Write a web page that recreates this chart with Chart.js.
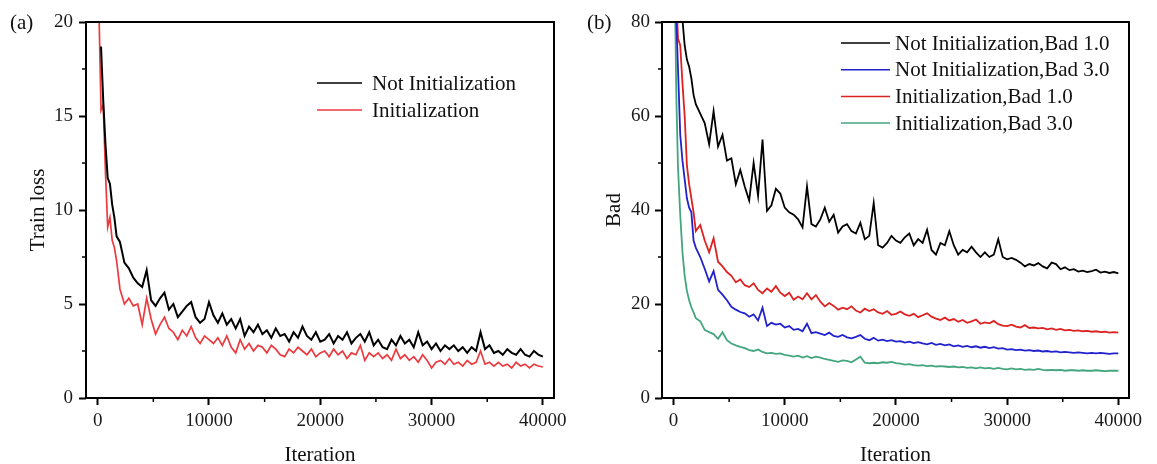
<!DOCTYPE html>
<html>
<head>
<meta charset="utf-8">
<script src="https://cdn.jsdelivr.net/npm/chart.js@4.4.1/dist/chart.umd.min.js"></script>
<style>
  html, body { margin: 0; padding: 0; background: #fff; }
  #wrap { position: relative; width: 1157px; height: 464px; }
  canvas { position: absolute; top: 0; }
  #lossChart { left: 0; }
  #badChart { left: 578px; }
</style>
</head>
<body>
<div id="wrap">
  <canvas id="lossChart" width="578" height="464"></canvas>
  <canvas id="badChart" width="579" height="464"></canvas>
</div>
<script>
// iterations: a few dense points at the start, then every 400
const lossEarlyIter = [100, 300, 500, 700, 900, 1100, 1300, 1500, 1700, 2000]
const badEarlyIter = [100, 250, 400, 600, 800, 1000, 1200, 1400, 1600, 1800, 2000]
const stepIter = [
  2400, 2800, 3200, 3600, 4000, 4400, 4800, 5200, 5600,
  6000, 6400, 6800, 7200, 7600, 8000, 8400, 8800, 9200, 9600,
  10000, 10400, 10800, 11200, 11600, 12000, 12400, 12800, 13200, 13600,
  14000, 14400, 14800, 15200, 15600, 16000, 16400, 16800, 17200, 17600,
  18000, 18400, 18800, 19200, 19600, 20000, 20400, 20800, 21200, 21600,
  22000, 22400, 22800, 23200, 23600, 24000, 24400, 24800, 25200, 25600,
  26000, 26400, 26800, 27200, 27600, 28000, 28400, 28800, 29200, 29600,
  30000, 30400, 30800, 31200, 31600, 32000, 32400, 32800, 33200, 33600,
  34000, 34400, 34800, 35200, 35600, 36000, 36400, 36800, 37200, 37600,
  38000, 38400, 38800, 39200, 39600, 40000
]

// (a) train loss
const lossNotInit = [
  null, 18.7, 15.8, 13.5, 11.7, 11.4, 10.3, 9.6, 8.6, 8.3,
  7.2, 6.9, 6.4, 6.1, 5.9, 6.8, 5.2, 4.9, 5.3,
  5.6, 4.7, 5.0, 4.3, 4.6, 4.9, 5.1, 4.3, 4.0, 4.2,
  5.1, 4.4, 4.0, 4.5, 3.9, 4.2, 3.7, 4.2, 3.3, 3.8,
  3.5, 3.9, 3.4, 3.6, 3.2, 3.7, 3.3, 3.4, 3.0, 3.5,
  3.2, 3.8, 3.3, 3.1, 3.5, 3.0, 3.1, 3.4, 2.9, 3.3,
  3.1, 3.5, 2.9, 3.2, 3.4, 3.0, 3.5, 2.8, 3.1, 2.7,
  2.6, 3.1, 2.8, 3.3, 2.9, 3.1, 2.7, 3.5, 2.8, 3.0,
  2.6, 2.9, 2.5, 2.8, 2.6, 2.8, 2.5, 2.7, 2.4, 2.7,
  2.5, 3.5, 2.6, 2.8, 2.4, 2.5, 2.3, 2.6, 2.4, 2.3,
  2.6, 2.3, 2.2, 2.5, 2.3, 2.2
]
const lossInit = [
  21, 15.3, 15.6, 12.0, 9.1, 9.6, 8.4, 8.0, 7.3, 5.8,
  5.0, 5.3, 4.9, 5.0, 3.9, 5.3, 4.2, 3.4, 3.9,
  4.3, 3.7, 3.5, 3.1, 3.6, 3.3, 3.8, 3.2, 2.9, 3.3,
  3.1, 2.9, 3.2, 2.8, 3.3, 2.7, 2.4, 3.1, 2.6, 2.9,
  2.5, 2.8, 2.7, 2.4, 2.8, 2.6, 2.3, 2.2, 2.6, 2.4,
  2.7, 2.5, 2.3, 2.6, 2.2, 2.4, 2.5, 2.2, 2.6, 2.3,
  2.5, 2.1, 2.4, 2.3, 2.8, 2.0, 2.4, 2.2, 2.4, 2.1,
  2.3, 2.0, 2.6, 2.1, 2.3, 2.0, 2.2, 1.9, 2.3, 2.0,
  1.6, 1.9, 2.0, 1.8, 2.1, 1.8, 1.9, 1.7, 2.0, 1.8,
  1.9, 2.5, 1.8, 1.9, 1.7, 1.9, 1.7, 1.8, 1.6, 1.9,
  1.7, 1.8, 1.6, 1.8, 1.7, 1.65
]

// (b) bad pixel rate
const badNotInit1 = [
  120, 105, 95, 86, 80.5, 75, 72, 70.5, 68, 64.5, 62.5,
  60.5, 58.5, 54.0, 61.0, 53.5, 56.0, 50.5, 51.0, 45.5,
  48.5, 45.0, 42.0, 50.0, 43.0, 55.0, 39.8, 41.0, 44.5, 43.5,
  40.5, 39.5, 39.0, 38.0, 36.3, 45.0, 37.0, 36.5, 38.0, 40.5,
  37.5, 39.0, 35.2, 36.5, 37.0, 35.5, 35.0, 37.3, 33.8, 34.5,
  41.5, 32.5, 32.0, 33.0, 34.5, 33.5, 33.0, 34.2, 35.0, 32.5,
  33.8, 33.0, 35.8, 31.5, 30.5, 33.0, 32.5, 35.5, 32.5, 30.5,
  31.5, 31.0, 32.2, 31.0, 30.0, 31.0, 30.0, 30.5, 33.8, 30.0,
  29.5, 29.8, 29.4, 28.8, 28.0, 28.5, 28.2, 28.7, 28.0, 27.6,
  28.8, 28.5, 27.4, 27.8, 27.2, 27.4, 26.9, 27.1, 26.8, 27.0,
  27.3, 26.7, 26.9, 26.6, 26.8, 26.5
]
const badNotInit3 = [
  100, 80, 70, 56, 50.5, 46.5, 42.5, 40.5, 39.5, 33.5, 32,
  30.0, 27.5, 24.8, 27.0, 23.0, 22.0, 20.8, 19.4, 18.8,
  18.3, 18.0, 17.3, 17.8, 16.5, 19.2, 15.3, 16.0, 15.6, 15.8,
  15.0, 15.3, 14.5, 14.7, 14.2, 15.8, 13.8, 14.0, 13.7, 13.4,
  13.9, 13.2, 13.0, 13.4, 12.9, 12.7, 13.0, 13.4, 12.6, 12.3,
  12.8, 12.2, 12.4, 12.1, 12.3, 12.0, 12.1, 11.8, 12.0, 11.7,
  11.9, 11.6, 11.4, 11.7, 11.3, 11.5, 11.2, 11.4, 11.0, 11.2,
  10.9, 11.1, 10.8, 11.0, 10.7, 10.9, 10.6, 10.8, 10.5, 10.6,
  10.3, 10.4, 10.2, 10.3, 10.1, 10.2, 10.0, 10.1, 9.9, 10.0,
  9.8, 9.9, 9.7, 9.8, 9.7, 9.6, 9.7, 9.6, 9.5, 9.6,
  9.5, 9.6, 9.5, 9.4, 9.5, 9.5
]
const badInit1 = [
  110, 85, 76.5, 75, 67, 60, 49.5, 45.5, 42.5, 39.5, 35.5,
  36.8, 33.5, 31.0, 34.0, 29.0, 28.0, 26.8, 26.0, 24.6,
  25.2, 24.0, 23.6, 24.4, 23.0, 22.3, 23.3, 22.6, 23.8, 22.4,
  21.7, 22.4, 20.9, 21.6, 21.0, 22.3, 21.0, 21.9, 20.5, 19.5,
  20.2, 19.6, 18.8, 19.2, 18.9, 19.5, 18.6, 18.2, 19.0, 18.5,
  18.9, 18.2, 17.9, 18.5, 17.7, 17.9, 18.4, 17.8, 17.5, 17.9,
  17.2, 17.6, 18.0, 17.3, 16.9, 16.6, 17.1, 16.5, 16.8, 16.2,
  16.6, 16.0, 16.3, 16.7, 15.8, 16.1, 15.9, 16.4, 15.7, 15.4,
  15.3, 15.6, 15.2, 15.0, 15.5, 14.9, 15.0, 14.8, 14.9, 14.6,
  14.8, 14.5, 14.7, 14.4, 14.5, 14.3, 14.4, 14.2, 14.3, 14.1,
  14.2, 14.0, 14.1, 13.9, 14.0, 13.9
]
const badInit3 = [
  90, 64, 49, 39, 31, 26, 22.8, 20.8, 19.3, 18.2, 17,
  16.3, 14.5, 14.0, 13.6, 12.6, 14.0, 12.3, 11.6, 11.2,
  10.9, 10.6, 10.2, 10.0, 10.3, 9.8, 9.5, 9.6, 9.4, 9.5,
  9.2, 9.0, 8.8, 9.0, 8.6, 8.9, 8.5, 8.8, 8.6, 8.3,
  8.1, 7.9, 7.7, 8.0, 7.9, 7.6, 8.2, 8.8, 7.5, 7.4,
  7.5, 7.4, 7.6, 7.5, 7.7, 7.4, 7.3, 7.1, 7.2, 7.0,
  6.9, 7.0, 6.8, 6.9, 6.7, 6.8, 6.7, 6.6, 6.7, 6.5,
  6.6, 6.4, 6.5, 6.3, 6.5, 6.3, 6.4, 6.2, 6.4, 6.2,
  6.1, 6.3, 6.1, 6.2, 6.0, 6.1, 6.0, 6.2, 6.0, 5.9,
  6.0, 5.9, 6.0, 5.8, 5.9, 5.9, 5.8, 5.9, 5.8, 5.8,
  5.9, 5.8, 5.7, 5.8, 5.8, 5.8
]

// ticks
const xTicks = [0, 10000, 20000, 30000, 40000]
const xMinor = [5000, 15000, 25000, 35000]
const lossTicks = [0, 5, 10, 15, 20]
const lossMinor = [2.5, 7.5, 12.5, 17.5]
const badTicks = [0, 20, 40, 60, 80]
const badMinor = [10, 30, 50, 70]

const FONT = '"Liberation Serif", "Times New Roman", serif'
const pts = (xs, ys) => xs.map((x, i) => ({ x: x, y: ys[i] }))

// box, minor ticks, panel letter and legend
const frame = {
    id: 'frame',
    afterDraw(chart, args, o) {
        const ctx = chart.ctx
        const a = chart.chartArea
        const sx = chart.scales.x, sy = chart.scales.y
        ctx.save()
        ctx.strokeStyle = '#000'
        ctx.lineWidth = 2
        ctx.strokeRect(a.left, a.top, a.right - a.left, a.bottom - a.top)
        ctx.lineWidth = 1.5
        ctx.beginPath()
        o.minorX.forEach(v => {
            const x = sx.getPixelForValue(v)
            ctx.moveTo(x, a.bottom); ctx.lineTo(x, a.bottom + 4)
        })
        o.minorY.forEach(v => {
            const y = sy.getPixelForValue(v)
            ctx.moveTo(a.left, y); ctx.lineTo(a.left - 4, y)
        })
        ctx.stroke()

        ctx.font = '21px ' + FONT
        ctx.fillStyle = '#111'
        ctx.textBaseline = 'middle'
        ctx.fillText(o.panel, o.panelX, 23)

        chart.data.datasets.forEach((ds, i) => {
            const y = o.legendY + i * o.legendGap
            ctx.strokeStyle = ds.borderColor
            ctx.lineWidth = 1.5
            ctx.beginPath()
            ctx.moveTo(o.legendX, y)
            ctx.lineTo(o.legendX + o.legendLen, y)
            ctx.stroke()
            ctx.fillText(ds.label, o.legendX + o.legendLen + o.textGap, y + 1)
        })
        ctx.restore()
    }
}

function makeScales(xMin, xMax, yMax, yTicks, yTitle, yWidth, yTitlePad, yTickPad) {
    const tickFont = { family: FONT, size: 19 }
    const titleFont = { family: FONT, size: 21, lineHeight: 1 }
    const grid = { drawOnChartArea: false, drawTicks: true, tickLength: 7, tickColor: '#000', tickWidth: 2 }
    return {
        x: {
            type: 'linear', min: xMin, max: xMax,
            afterBuildTicks: s => { s.ticks = xTicks.map(v => ({ value: v })) },
            afterFit: s => { s.height = 66 },
            grid: grid,
            border: { display: false },
            ticks: { font: tickFont, color: '#1a1a1a', padding: 5, maxRotation: 0, callback: v => String(v) },
            title: { display: true, text: 'Iteration', font: titleFont, color: '#111', padding: { top: 0, bottom: -2 } }
        },
        y: {
            type: 'linear', min: 0, max: yMax,
            afterBuildTicks: s => { s.ticks = yTicks.map(v => ({ value: v })) },
            afterFit: s => { s.width = yWidth },
            grid: grid,
            border: { display: false },
            ticks: { font: tickFont, color: '#1a1a1a', padding: yTickPad, callback: v => String(v) },
            title: { display: true, text: yTitle, font: titleFont, color: '#111', padding: { top: yTitlePad, bottom: 0 } }
        }
    }
}

function line(label, color, data, width) {
    return { label: label, data: data, borderColor: color, backgroundColor: color, borderWidth: width, pointRadius: 0, tension: 0, fill: false }
}

const lossIter = lossEarlyIter.concat(stepIter)
const badIter = badEarlyIter.concat(stepIter)

new Chart(document.querySelector('#lossChart'), {
    type: 'line',
    data: {
        datasets: [
            line('Not Initialization', '#000000', pts(lossIter, lossNotInit), 2),
            line('Initialization', '#ec3a3f', pts(lossIter, lossInit), 1.7)
        ]
    },
    options: {
        responsive: false, animation: false, devicePixelRatio: 1,
        layout: { padding: { top: 22, right: 24, left: 0, bottom: 0 } },
        scales: makeScales(-1050, 41000, 20, lossTicks, 'Train loss', 86, 28, 6),
        plugins: {
            legend: { display: false }, tooltip: { enabled: false },
            frame: { minorX: xMinor, minorY: lossMinor, panel: '(a)', panelX: 10,
                legendX: 317, legendLen: 45, legendY: 83, legendGap: 27, textGap: 10 }
        }
    },
    plugins: [frame]
})

new Chart(document.querySelector('#badChart'), {
    type: 'line',
    data: {
        datasets: [
            line('Not Initialization,Bad 1.0', '#000000', pts(badIter, badNotInit1), 1.8),
            line('Not Initialization,Bad 3.0', '#2222cc', pts(badIter, badNotInit3), 1.8),
            line('Initialization,Bad 1.0', '#dd2222', pts(badIter, badInit1), 1.8),
            line('Initialization,Bad 3.0', '#44a67f', pts(badIter, badInit3), 1.8)
        ]
    },
    options: {
        responsive: false, animation: false, devicePixelRatio: 1,
        layout: { padding: { top: 22, right: 28, left: 0, bottom: 0 } },
        scales: makeScales(-1040, 40960, 80, badTicks, 'Bad', 84, 26, 5),
        plugins: {
            legend: { display: false }, tooltip: { enabled: false },
            frame: { minorX: xMinor, minorY: badMinor, panel: '(b)', panelX: 9,
                legendX: 263, legendLen: 49, legendY: 43, legendGap: 26.7, textGap: 5 }
        }
    },
    plugins: [frame]
})
</script>
</body>
</html>
